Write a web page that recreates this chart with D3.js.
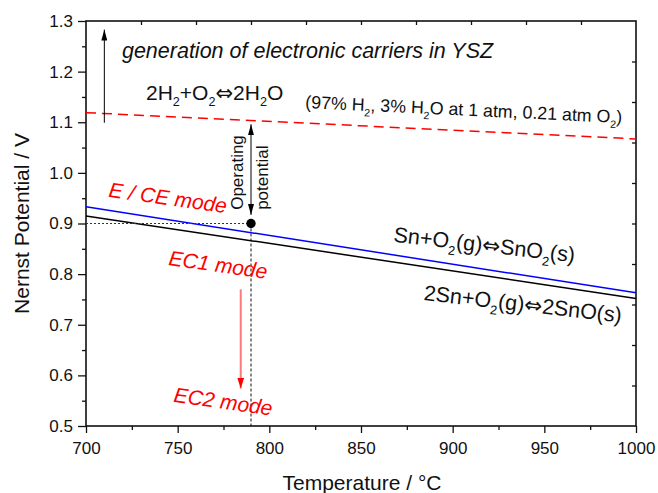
<!DOCTYPE html>
<html>
<head>
<meta charset="utf-8">
<script src="https://cdn.jsdelivr.net/npm/d3@7"></script>
<style>
  body { margin: 0; background: #fff; }
  svg text { font-family: "Liberation Sans", Arial, Helvetica, sans-serif; fill: #111; }
  .tick text { font-size: 17px; }
  .red { fill: #ff0000 !important; }
  .arrowGlyph { font-family: "DejaVu Sans", sans-serif; }
</style>
</head>
<body>
<div id="chart"></div>
<script>
// chart values
const temps = [700, 1000];
const h2Potential = [1.119, 1.067];     // 2H2+O2 <=> 2H2O, dashed red
const sno2Potential = [0.933, 0.763];   // Sn+O2 <=> SnO2, blue
const snoPotential = [0.915, 0.752];    // 2Sn+O2 <=> 2SnO, black
const opTemp = 790;
const opPotential = 0.9;
const xTicks = [700, 750, 800, 850, 900, 950, 1000];
const xMinor = [725, 775, 825, 875, 925, 975];
const xTopTicks = [730, 760, 790, 820, 850, 880, 910, 940, 970];
const yTicks = [0.5, 0.6, 0.7, 0.8, 0.9, 1.0, 1.1, 1.2, 1.3];
const yMinor = [0.55, 0.65, 0.75, 0.85, 0.95, 1.05, 1.15, 1.25];
const yRightTicks = [0.58, 0.66, 0.74, 0.82, 0.9, 0.98, 1.06, 1.14, 1.22];

const svgWidth = 658, svgHeight = 493;
const margin = { top: 21, right: 22, bottom: 67, left: 86 };
const width = svgWidth - margin.left - margin.right;
const height = svgHeight - margin.top - margin.bottom;

const svg = d3.select("#chart").append("svg")
  .attr("width", svgWidth)
  .attr("height", svgHeight);

// arrow heads
const defs = svg.append("defs");
function marker(id, color, w, h) {
  defs.append("marker")
    .attr("id", id)
    .attr("viewBox", `0 0 ${h} ${w}`)
    .attr("refX", h).attr("refY", w / 2)
    .attr("markerWidth", h).attr("markerHeight", w)
    .attr("markerUnits", "userSpaceOnUse")
    .attr("orient", "auto-start-reverse")
    .append("path")
    .attr("d", `M0,0L${h},${w / 2}L0,${w}Z`)
    .attr("fill", color);
}
marker("headBlack", "#000", 6, 11);
marker("headRed", "#ff0000", 7, 11);

const g = svg.append("g").attr("transform", `translate(${margin.left},${margin.top})`);

const x = d3.scaleLinear().domain([700, 1000]).range([0, width]);
const y = d3.scaleLinear().domain([0.5, 1.3]).range([height, 0]);

// axes
function styleAxis(sel) {
  sel.select(".domain").remove();
  sel.selectAll(".tick line").attr("stroke", "#111").attr("stroke-width", 1.3);
}
g.append("g").attr("transform", `translate(0,${height})`)
  .call(d3.axisBottom(x).tickValues(xTicks).tickSize(7).tickPadding(9).tickFormat(d3.format("d")))
  .call(styleAxis);
g.append("g").attr("transform", `translate(0,${height})`)
  .call(d3.axisBottom(x).tickValues(xMinor).tickSize(4).tickFormat(""))
  .call(styleAxis);
g.append("g")
  .call(d3.axisLeft(y).tickValues(yTicks).tickSize(8).tickPadding(5).tickFormat(d3.format(".1f")))
  .call(styleAxis);
g.append("g")
  .call(d3.axisLeft(y).tickValues(yMinor).tickSize(4).tickFormat(""))
  .call(styleAxis);
g.append("g")
  .call(d3.axisTop(x).tickValues(xTopTicks).tickSize(-4).tickFormat(""))
  .call(styleAxis);
g.append("g").attr("transform", `translate(${width},0)`)
  .call(d3.axisRight(y).tickValues(yRightTicks).tickSize(-4).tickFormat(""))
  .call(styleAxis);
g.selectAll(".tick text").attr("fill", "#111");

g.append("rect")
  .attr("width", width).attr("height", height)
  .attr("fill", "none").attr("stroke", "#111").attr("stroke-width", 1.6);

// lines
const line = d3.line().x(d => x(d[0])).y(d => y(d[1]));
g.append("path").datum(d3.zip(temps, h2Potential))
  .attr("d", line).attr("fill", "none")
  .attr("stroke", "#ff0000").attr("stroke-width", 1.5).attr("stroke-dasharray", "10,6");
g.append("path").datum(d3.zip(temps, sno2Potential))
  .attr("d", line).attr("fill", "none")
  .attr("stroke", "#0000ff").attr("stroke-width", 1.5);
g.append("path").datum(d3.zip(temps, snoPotential))
  .attr("d", line).attr("fill", "none")
  .attr("stroke", "#000").attr("stroke-width", 1.5);

// operating point guides
g.append("line")
  .attr("x1", 0).attr("x2", x(opTemp)).attr("y1", y(opPotential)).attr("y2", y(opPotential))
  .attr("stroke", "#333").attr("stroke-width", 1).attr("stroke-dasharray", "2,2");
g.append("line")
  .attr("x1", x(opTemp)).attr("x2", x(opTemp)).attr("y1", y(opPotential)).attr("y2", height)
  .attr("stroke", "#111").attr("stroke-width", 1).attr("stroke-dasharray", "3,2");
g.append("circle")
  .attr("cx", x(opTemp)).attr("cy", y(opPotential)).attr("r", 4.7).attr("fill", "#000");

// arrows
g.append("line")
  .attr("x1", x(710)).attr("x2", x(710)).attr("y1", y(1.099)).attr("y2", y(1.283))
  .attr("stroke", "#000").attr("stroke-width", 1).attr("marker-end", "url(#headBlack)");
g.append("line")
  .attr("x1", x(opTemp)).attr("x2", x(opTemp)).attr("y1", y(1.096)).attr("y2", y(0.917))
  .attr("stroke", "#000").attr("stroke-width", 1)
  .attr("marker-start", "url(#headBlack)").attr("marker-end", "url(#headBlack)");
g.append("line")
  .attr("x1", x(784.4)).attr("x2", x(784.4)).attr("y1", y(0.770)).attr("y2", y(0.574))
  .attr("stroke", "#ff7a7a").attr("stroke-width", 2).attr("marker-end", "url(#headRed)");

// text with subscripts: parts are [text, kind]  kind: 1 = subscript, 2 = arrow glyph
function richText(parent, tx, ty, parts, size, opts) {
  opts = opts || {};
  const t = parent.append("text")
    .attr("transform", `translate(${tx},${ty}) rotate(${opts.rotate || 0})`)
    .style("font-size", size + "px");
  if (opts.italic) t.style("font-style", "italic");
  if (opts.red) t.classed("red", true);
  let shifted = false;
  parts.forEach(p => {
    const kind = p[1];
    const s = t.append("tspan").text(p[0]);
    if (kind === 1 && !shifted) { s.attr("dy", size * 0.3).style("font-size", (size * 0.6) + "px"); shifted = true; }
    else if (kind !== 1 && shifted) { s.attr("dy", -size * 0.3); shifted = false; }
    if (kind === 2) s.classed("arrowGlyph", true).style("font-size", (size * 1.0) + "px");
  });
  return t;
}

const dbl = "\u21D4";
richText(g, x(719.6), y(1.226), [["generation of electronic carriers in YSZ"]], 21.5, { italic: true });
richText(g, x(732.7), y(1.144), [["2H"], ["2", 1], ["+O"], ["2", 1], [dbl, 2], ["2H"], ["2", 1], ["O"]], 21);
richText(g, x(819.5), y(1.128),
  [["(97% H"], ["2", 1], [", 3% H"], ["2", 1], ["O at 1 atm, 0.21 atm O"], ["2", 1], [")"]], 17.8, { rotate: 2.7 });
richText(g, x(712), y(0.953), [["E / CE mode"]], 21, { italic: true, red: true, rotate: 8 });
richText(g, x(744.7), y(0.818), [["EC1 mode"]], 21, { italic: true, red: true, rotate: 8 });
richText(g, x(747.5), y(0.548), [["EC2 mode"]], 21, { italic: true, red: true, rotate: 8 });
richText(g, x(867.5), y(0.864), [["Sn+O"], ["2", 1], ["(g)"], [dbl, 2], ["SnO"], ["2", 1], ["(s)"]], 21.5, { rotate: 6.5 });
richText(g, x(883.9), y(0.749), [["2Sn+O"], ["2", 1], ["(g)"], [dbl, 2], ["2SnO(s)"]], 21.5, { rotate: 6.5 });

// operating potential label, vertical
richText(g, x(opTemp) - 8, y(0.927), [["Operating"]], 17, { rotate: -90 });
richText(g, x(opTemp) + 17, y(0.927), [["potential"]], 17, { rotate: -90 });

// axis titles
svg.append("text")
  .attr("x", margin.left + width / 2 + 1).attr("y", 490)
  .attr("text-anchor", "middle").style("font-size", "21px")
  .text("Temperature / \u00B0C");
svg.append("text")
  .attr("transform", `translate(29,${margin.top + height / 2}) rotate(-90)`)
  .attr("text-anchor", "middle").style("font-size", "21px")
  .text("Nernst Potential / V");
</script>
</body>
</html>
